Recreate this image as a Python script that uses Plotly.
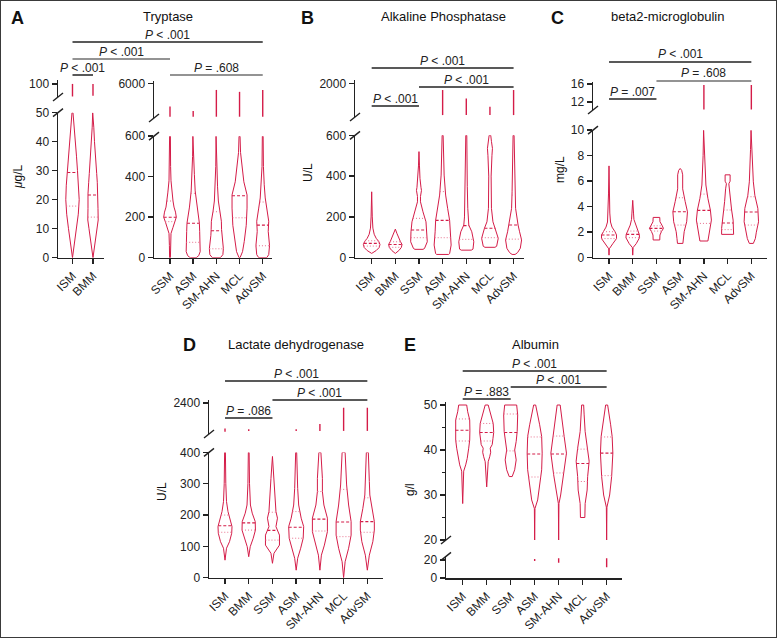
import numpy as np
import plotly.graph_objects as go

W, H = 777, 638
RED = "#d41c48"
PINK = "#e8708e"
DARK = "#222222"
GRAY = "#6f6f6f"
FONT = "Liberation Sans, Arial, sans-serif"

# ---------------- DATA ----------------
CATS7 = ["ISM", "BMM", "SSM", "ASM", "SM-AHN", "MCL", "AdvSM"]
TRYP_LEFT_CATS = ["ISM", "BMM"]
TRYP_RIGHT_CATS = ["SSM", "ASM", "SM-AHN", "MCL", "AdvSM"]

# Tryptase (ug/L) - ISM, BMM (0-50 segment)
TRYP_L_LEVELS = [[0, 5, 10, 15, 20, 25, 30, 35, 40, 45, 50],
                 [0, 5, 10, 13, 17, 22, 26, 29, 33, 40, 45, 50]]
TRYP_L_DENS = [[0, 2, 4, 5.8, 6.7, 6.2, 5, 4, 3, 1.7, 0.5],
               [0, 2.2, 4, 5.2, 5, 5, 4.3, 3.7, 2.7, 1.5, 0.8, 0.3]]
TRYP_L_MEDIAN = [29.4, 21.6]
TRYP_L_QUART = [[17.8], [14.0]]
TRYP_L_HIGH = [[52, 100], [55, 100]]

# Tryptase - SSM..AdvSM (0-600 segment)
TRYP_R_LEVELS = [[0, 60, 120, 150, 175, 200, 225, 250, 280, 320, 380, 450, 600],
                 [0, 10, 30, 80, 130, 170, 210, 250, 330, 410, 500, 600],
                 [0, 15, 45, 110, 140, 180, 230, 280, 350, 450, 600],
                 [0, 30, 80, 160, 245, 310, 375, 440, 520, 600],
                 [0, 15, 60, 130, 180, 245, 295, 360, 450, 600]]
TRYP_R_DENS = [[0.4, 0.6, 1, 3, 4.5, 6.3, 5.5, 4, 3, 2.2, 1, 0.6, 0.4],
               [3, 5.5, 7, 7, 6.5, 6.2, 5, 3.7, 2, 1.2, 0.6, 0.3],
               [4, 6.5, 7, 5.5, 5.2, 5, 3.3, 2, 1.2, 0.6, 0.3],
               [0.5, 3, 4.7, 6.7, 7.5, 7.5, 4.3, 2.5, 1, 0.5],
               [4, 6, 6.8, 5.5, 6, 4, 2.5, 1.5, 0.7, 0.4]]
TRYP_R_MEDIAN = [200, 170, 133, 306, 161]
TRYP_R_QUART = [[178, 280], [76, 318], [44, 227], [197], [59, 275]]
TRYP_R_HIGH = [[800, 2400], [800, 1700], [800, 5000], [800, 4700], [800, 5000]]

# Alkaline phosphatase (U/L)
ALP_LEVELS = [[21, 35, 50, 65, 80, 95, 115, 145, 200, 323],
              [21, 35, 50, 65, 80, 100, 120, 140],
              [41, 45, 78, 127, 176, 225, 274, 300, 330, 345, 389, 450, 520],
              [16, 20, 62, 127, 183, 242, 307, 405, 500, 600],
              [37, 42, 78, 127, 160, 200, 242, 350, 600],
              [51, 56, 95, 144, 176, 242, 400, 500, 536, 570, 600],
              [16, 25, 46, 87, 127, 160, 242, 323, 450, 600]]
ALP_DENS = [[0, 4.5, 7.5, 8.3, 7, 4.5, 2.5, 1.2, 0.6, 0],
            [0, 3.5, 6, 6.7, 5, 3, 1.5, 0],
            [4, 5.5, 8.3, 8, 7, 4, 1.5, 1.5, 2.5, 2, 1, 0.5, 0],
            [6, 7, 8.5, 7.5, 7, 5, 3, 1.5, 0.8, 0.5],
            [5, 6.7, 7.5, 5.5, 2.5, 1.8, 1.5, 1, 0.5],
            [5, 6.7, 8.3, 5.5, 3, 1.5, 1.2, 2, 2.5, 1.5, 0.8],
            [1.5, 4, 6.7, 8, 6, 4.5, 2, 1.5, 0.8, 0.5]]
ALP_MEDIAN = [70, 65, 136, 183, 157, 144, 160]
ALP_QUART = [[57, 83], [51, 78], [98, 193], [98, 324], [90], [98], [91, 307]]
ALP_HIGH = [None, None, None, [680, 1730], [680, 1380], [680, 1030], [680, 1730]]

# beta2-microglobulin (mg/L)
B2M_LEVELS = [[0.2, 0.7, 1.1, 1.5, 1.78, 2.04, 2.4, 2.8, 3.5, 5, 7.2],
              [0.2, 0.8, 1.1, 1.57, 1.83, 2.17, 2.56, 3.0, 3.5, 4.5],
              [1.39, 1.78, 2.05, 2.3, 2.55, 2.82, 3.16],
              [1.12, 1.5, 2.04, 2.82, 3.6, 4.4, 5.4, 6.5, 6.85, 7.0],
              [1.31, 2.0, 2.95, 3.73, 4.65, 5.7, 6.75, 8, 10],
              [1.83, 2.3, 2.95, 3.74, 4.4, 5.4, 5.8, 6.0, 6.5],
              [1.12, 1.5, 2.0, 2.82, 3.87, 4.9, 5.95, 7, 8.5, 10]]
B2M_DENS = [[0, 0.3, 3.8, 7.5, 7.5, 6, 3, 1.5, 0.8, 0.5, 0],
            [0, 0.4, 3.5, 6.8, 6.5, 5, 2.5, 1.2, 0.8, 0],
            [3.3, 3.5, 5, 7, 5.5, 3.5, 3.3],
            [2.7, 3.2, 4, 6.5, 7.3, 5, 2.5, 2.5, 1.5, 0],
            [4, 5.5, 7.5, 6.5, 4, 2, 1.5, 0.8, 0.3],
            [6, 6, 5.5, 4, 3, 2, 1.2, 2.5, 2.5],
            [2, 4, 5, 7.2, 6.5, 3.5, 2, 1.5, 0.8, 0.3]]
B2M_MEDIAN = [1.78, 1.83, 2.3, 3.6, 3.71, 2.72, 3.58]
B2M_QUART = [[1.5, 2.04], [1.57, 2.09], [2.09, 2.5], [2.56, 4.7], [2.69, 4.99], [2.2, 3.74], [2.56, 4.78]]
B2M_HIGH = [None, None, None, None, [10.3, 15.8], None, [10.3, 15.8]]

# Lactate dehydrogenase (U/L)
LDH_LEVELS = [[56, 94, 115, 142, 163, 190, 211, 243, 300, 400],
              [67, 99, 126, 152, 179, 206, 232, 300, 400],
              [46, 78, 104, 136, 163, 190, 211, 264, 317, 387],
              [24, 62, 94, 126, 163, 190, 232, 285, 400],
              [24, 72, 104, 147, 190, 232, 275, 317, 400],
              [0, 51, 94, 136, 179, 232, 296, 349, 400],
              [24, 72, 115, 152, 179, 221, 264, 307, 400]]
LDH_DENS = [[0, 1.5, 4.5, 6.7, 7, 4.5, 3, 1.5, 0.8, 0.4],
            [0, 1.5, 4.5, 6.7, 6.5, 3.5, 1.7, 0.8, 0.4],
            [0, 1.5, 7, 7, 3.5, 5, 3.5, 2.5, 1.5, 0],
            [0, 1.5, 4.5, 7, 7.5, 5, 2.5, 1.5, 0.5],
            [0, 1.5, 4.5, 7.5, 7.5, 4, 2.5, 2.5, 1],
            [0, 1.5, 5, 7.5, 7.5, 5, 3, 2, 1.5],
            [0, 2, 5.5, 7, 7, 4.5, 2.5, 2, 1]]
LDH_MEDIAN = [166, 175, 151, 161, 187, 178, 179]
LDH_QUART = [[145, 200], [152], [120, 209], [126, 211], [149, 275], [131, 282], [145, 255]]
LDH_HIGH = [[550, 750], [600, 700], None, [600, 700], [600, 1050], [600, 2100], [600, 2100]]

# Albumin (g/l)
ALB_LEVELS = [[28.1, 35.3, 36.7, 38.1, 40.4, 42.2, 44.4, 46.7, 48.5, 50],
              [31.8, 37.4, 38.5, 39.5, 40.4, 41.2, 42.6, 43.9, 45.9, 47.8, 50],
              [34.1, 35.6, 37.8, 40, 41.9, 44.1, 47.8, 50],
              [20, 27, 28.9, 32.6, 35.6, 39.3, 43, 45.6, 48.5, 50],
              [20, 28.1, 30, 34.5, 39.3, 43, 46.7, 50],
              [25, 28.1, 31.1, 34.1, 37.5, 40.4, 44.1, 47.8, 50],
              [20, 27.3, 30, 34.1, 39.3, 43, 45.6, 48.5, 50]]
ALB_DENS = [[0, 1, 3, 4.5, 6, 7, 7.2, 7, 5, 4],
            [0, 1.5, 3, 4, 3.5, 5.5, 6.3, 7, 6.5, 4.5, 1.5],
            [1.5, 4, 5.5, 4, 5.5, 6.5, 7, 6],
            [0, 0.3, 3, 5.5, 7, 7.5, 7, 5, 2.5, 1],
            [0, 0.3, 2, 5, 7.8, 5.5, 3.5, 1.5],
            [2.2, 2.5, 4.5, 5, 6.5, 5, 2.5, 1.5, 1],
            [0, 0.3, 3, 5, 6.2, 5.5, 4, 2, 1]]
ALB_MEDIAN = [44.4, 43.9, 43.9, 39.1, 39.1, 37.0, 39.3]
ALB_QUART = [[46.9, 42.0], [45.9, 42.0], [48.0, 39.8], [42.9, 34.0], [43.1, 34.9], [40.2, 33.0], [42.9, 34.3]]
ALB_LOW = [None, None, None, [19, 21], [17, 22], None, [12, 22]]

# ---------------- HELPERS ----------------
fig = go.Figure()
layout_axes = {}
shapes = []
annots = []
AX = {}  # axis geometry for mapping


def xk(n):
    return "xaxis" if n == 1 else f"xaxis{n}"


def yk(n):
    return "yaxis" if n == 1 else f"yaxis{n}"


def xr(n):
    return "x" if n == 1 else f"x{n}"


def yr(n):
    return "y" if n == 1 else f"y{n}"


def tickfont():
    return dict(family=FONT, size=12, color=DARK)


def setup_x(n, cats, px0, px1, rng, ylo):
    layout_axes[xk(n)] = dict(
        domain=[px0 / W, px1 / W], range=rng, anchor=yr(ylo),
        tickmode="array", tickvals=list(range(len(cats))), ticktext=cats,
        tickangle=-45, showline=True, linecolor=DARK, linewidth=1.5,
        ticks="outside", ticklen=5, tickwidth=1.5, tickcolor=DARK,
        showgrid=False, zeroline=False, tickfont=tickfont(), fixedrange=True,
        automargin=False)
    AX[n] = (px0, px1, rng)


def setup_y(n, xn, top_px, bot_px, rng, ticks, minor=None):
    d = dict(
        domain=[1 - bot_px / H, 1 - top_px / H], range=rng, anchor=xr(xn),
        tickmode="array", tickvals=ticks, showline=True, linecolor=DARK,
        linewidth=1.5, ticks="outside", ticklen=5, tickwidth=1.5,
        tickcolor=DARK, showgrid=False, zeroline=False, tickfont=tickfont(),
        fixedrange=True, automargin=False)
    if minor:
        d["minor"] = dict(tickvals=minor, ticks="outside", ticklen=3,
                          tickwidth=1.2, tickcolor=DARK)
    layout_axes[yk(n)] = d


def px_per_cat(xn):
    p0, p1, rng = AX[xn]
    return (p1 - p0) / (rng[1] - rng[0])


def cat_paper(xn, i):
    p0, p1, rng = AX[xn]
    return (p0 + (i - rng[0]) / (rng[1] - rng[0]) * (p1 - p0)) / W


def line_trace(xs, ys, xn, yn, color=RED, width=1.0, dash=None):
    fig.add_trace(go.Scatter(
        x=xs, y=ys, mode="lines", xaxis=xr(xn), yaxis=yr(yn),
        line=dict(color=color, width=width, dash=dash),
        hoverinfo="skip", showlegend=False))


def violins(xn, yn, levels, dens, medians, quarts):
    s = px_per_cat(xn)
    for i, (lv, dn) in enumerate(zip(levels, dens)):
        y = np.array(lv, dtype=float)
        w = np.array(dn, dtype=float) / s
        xs = np.concatenate([i + w, (i - w)[::-1], [i + w[0]]])
        ys = np.concatenate([y, y[::-1], [y[0]]])
        line_trace(xs, ys, xn, yn, RED, 1.0)
        for q in quarts[i]:
            wq = np.interp(q, y, w)
            line_trace([i - wq, i + wq], [q, q], xn, yn, PINK, 1.0, "1px,2px")
        m = medians[i]
        wm = np.interp(m, y, w)
        line_trace([i - wm, i + wm], [m, m], xn, yn, RED, 1.1, "3px,2px")


def outliers(xn, yn, spans):
    for i, sp in enumerate(spans):
        if sp is None:
            continue
        line_trace([i, i], sp, xn, yn, RED, 1.4)


def breaks(xn, ylo, yhi):
    for yn, anchor in ((ylo, 1), (yhi, 0)):
        shapes.append(dict(
            type="line", xref=f"{xr(xn)} domain", yref=f"{yr(yn)} domain",
            xsizemode="pixel", ysizemode="pixel", xanchor=0, yanchor=anchor,
            x0=-5, x1=5, y0=-4, y1=4, line=dict(color=DARK, width=1.5)))


def bracket(xa, ia, xb, ib, y_px, text, color=DARK):
    xa_p = cat_paper(xa, ia)
    xb_p = cat_paper(xb, ib)
    yp = 1 - y_px / H
    shapes.append(dict(type="line", xref="paper", yref="paper",
                       x0=xa_p, x1=xb_p, y0=yp, y1=yp,
                       line=dict(color=color, width=1.5)))
    annots.append(dict(x=(xa_p + xb_p) / 2, y=1 - (y_px - 7.5) / H,
                       xref="paper", yref="paper", text=text,
                       showarrow=False, xanchor="center", yanchor="middle",
                       font=dict(family=FONT, size=12, color=DARK)))


def text_at(x_px, y_px, text, size=13, bold=False, angle=0):
    t = f"<b>{text}</b>" if bold else text
    annots.append(dict(x=x_px / W, y=1 - y_px / H, xref="paper",
                       yref="paper", text=t, showarrow=False,
                       xanchor="center", yanchor="middle", textangle=angle,
                       font=dict(family=FONT, size=size, color="#111111")))


PLT = "<i>P</i> < .001"

# ---------------- PANEL A: Tryptase ----------------
setup_x(1, TRYP_LEFT_CATS, 58, 104, [-0.707, 1.537], 1)
setup_y(1, 1, 112.7, 257.7, [0, 50], [0, 10, 20, 30, 40, 50])
setup_y(2, 1, 80, 97, [50, 115], [100])
violins(1, 1, TRYP_L_LEVELS, TRYP_L_DENS, TRYP_L_MEDIAN, TRYP_L_QUART)
outliers(1, 2, TRYP_L_HIGH)
breaks(1, 1, 2)

setup_x(2, TRYP_RIGHT_CATS, 154, 272, [-0.69, 4.4], 3)
setup_y(3, 2, 136.2, 257.7, [0, 600], [0, 200, 400, 600])
setup_y(4, 2, 81, 118, [600, 6400], [6000])
violins(2, 3, TRYP_R_LEVELS, TRYP_R_DENS, TRYP_R_MEDIAN, TRYP_R_QUART)
outliers(2, 4, TRYP_R_HIGH)
breaks(2, 3, 4)

bracket(1, 0, 2, 4, 42, PLT)
bracket(1, 0, 2, 0, 59, PLT, GRAY)
bracket(1, 0, 1, 1, 75, PLT)
bracket(2, 0, 2, 4, 75, "<i>P</i> = .608", GRAY)
text_at(17, 18, "A", 18, True)
text_at(168, 17, "Tryptase")
text_at(18, 177, "<i>μ</i>g/L", 12, angle=-90)

# ---------------- PANEL B: ALP ----------------
setup_x(3, CATS7, 355, 524, [-0.705, 6.44], 5)
setup_y(5, 3, 135.3, 257.7, [0, 600], [0, 200, 400, 600])
setup_y(6, 3, 80, 117, [600, 2150], [2000])
violins(3, 5, ALP_LEVELS, ALP_DENS, ALP_MEDIAN, ALP_QUART)
outliers(3, 6, ALP_HIGH)
breaks(3, 5, 6)
bracket(3, 0, 3, 6, 68, PLT)
bracket(3, 2, 3, 6, 87, PLT)
bracket(3, 0, 3, 2, 106, PLT)
text_at(307, 18, "B", 18, True)
text_at(443, 17, "Alkaline Phosphatase")
text_at(308, 173, "U/L", 12, angle=-90)

# ---------------- PANEL C: beta2-microglobulin ----------------
setup_x(4, CATS7, 593, 767, [-0.675, 6.66], 7)
setup_y(7, 4, 130.2, 257.7, [0, 10], [0, 2, 4, 6, 8, 10])
setup_y(8, 4, 81.75, 110, [10.2, 16.5], [12, 16])
violins(4, 7, B2M_LEVELS, B2M_DENS, B2M_MEDIAN, B2M_QUART)
outliers(4, 8, B2M_HIGH)
breaks(4, 7, 8)
bracket(4, 0, 4, 6, 62, PLT)
bracket(4, 2, 4, 6, 81, "<i>P</i> = .608", GRAY)
bracket(4, 0, 4, 2, 99, "<i>P</i> = .007")
text_at(557, 18, "C", 18, True)
text_at(667, 17, "beta2-microglobulin")
text_at(560, 170, "mg/L", 12, angle=-90)

# ---------------- PANEL D: LDH ----------------
setup_x(5, CATS7, 209, 383, [-0.675, 6.66], 9)
setup_y(9, 5, 452.4, 577.7, [0, 400], [0, 100, 200, 300, 400])
setup_y(10, 5, 400, 434, [400, 2600], [2400])
violins(5, 9, LDH_LEVELS, LDH_DENS, LDH_MEDIAN, LDH_QUART)
outliers(5, 10, LDH_HIGH)
breaks(5, 9, 10)
bracket(5, 0, 5, 6, 381, PLT)
bracket(5, 2, 5, 6, 400, PLT)
bracket(5, 0, 5, 2, 418, "<i>P</i> = .086")
text_at(189, 345, "D", 18, True)
text_at(296, 344, "Lactate dehydrogenase")
text_at(162, 492, "U/L", 12, angle=-90)

# ---------------- PANEL E: Albumin ----------------
setup_x(6, CATS7, 446, 622, [-0.696, 6.64], 11)
setup_y(11, 6, 556.4, 578, [0, 24], [0, 20])
setup_y(12, 6, 402, 540, [20, 50.67], [20, 30, 40, 50], minor=[25, 35, 45])
violins(6, 12, ALB_LEVELS, ALB_DENS, ALB_MEDIAN, ALB_QUART)
outliers(6, 11, ALB_LOW)
breaks(6, 11, 12)
bracket(6, 0, 6, 6, 371, PLT)
bracket(6, 2, 6, 6, 387, PLT)
bracket(6, 0, 6, 2, 399, "<i>P</i> = .883")
text_at(410, 345, "E", 18, True)
text_at(535, 344, "Albumin")
text_at(410, 490, "g/l", 12, angle=-90)

# frame
shapes.append(dict(type="rect", xref="paper", yref="paper", x0=0, x1=1,
                   y0=0, y1=1, line=dict(color="#3a3a3a", width=2)))

fig.update_layout(
    width=W, height=H, margin=dict(l=0, r=0, t=0, b=0, autoexpand=False),
    paper_bgcolor="white", plot_bgcolor="white", showlegend=False,
    shapes=shapes, annotations=annots, font=dict(family=FONT),
    **layout_axes)

fig.write_html(
    "out.html",
    config={"displayModeBar": False, "staticPlot": True},
    post_script="document.body.style.margin='0';"
                "document.body.style.overflow='hidden';")
